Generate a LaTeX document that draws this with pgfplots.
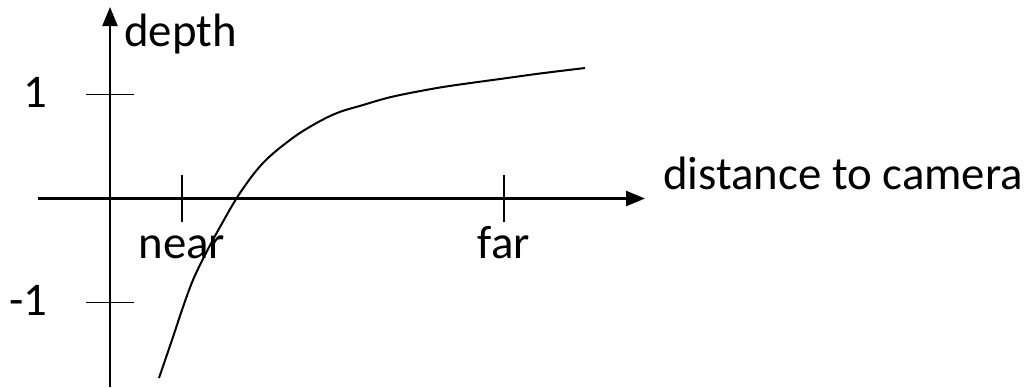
\documentclass[border=0pt]{standalone}
\usepackage{fontspec}
\setmainfont{Carlito}
\usepackage{pgfplots}
\pgfplotsset{compat=1.18}
\usetikzlibrary{arrows.meta}
\begin{document}
\fontsize{23.4}{28}\selectfont
\begin{tikzpicture}
\useasboundingbox (-55pt,-94.25pt) rectangle (460.5pt,99.25pt);
\begin{axis}[
  anchor=origin, at={(0pt,0pt)},
  x=0.5pt, y=52pt,
  xmin=-72, xmax=535,
  ymin=-1.8125, ymax=1.841,
  axis lines=middle,
  axis line style={-{Triangle[length=9.5pt,width=7.5pt]}, line width=1.2pt, black},
  clip=false,
  xtick={72,394}, xticklabels={near,far},
  ytick={-1,1}, yticklabels={-1,1},
  major tick length=23.5pt,
  tick align=center,
  tick style={black, line width=0.8pt},
  xticklabel style={anchor=base, inner sep=0pt, yshift=-18.25pt},
  yticklabel style={anchor=east, inner sep=0pt, xshift=-19.5pt, yshift=1pt},
  xlabel={distance to camera},
  ylabel={depth},
  every axis x label/.style={at={(axis description cs:1.0296,0.521)}, anchor=base west, inner sep=0pt},
  every axis y label/.style={at={(axis description cs:0.1417,0.895)}, anchor=base west, inner sep=0pt},
]
\addplot[smooth, tension=0.6, black, line width=1pt, mark=none] coordinates {
(49,-1.7260) (63,-1.3317) (73,-1.0433) (83,-0.7837) (95,-0.5433) (110,-0.2740)
(130,0.0529) (153,0.3413) (180,0.5625) (203,0.7067) (227,0.8221) (253,0.8990)
(277,0.9663) (300,1.0144) (330,1.0673) (357,1.1058) (390,1.1490) (430,1.2019)
(475,1.2548)
};
\end{axis}
\end{tikzpicture}
\end{document}
